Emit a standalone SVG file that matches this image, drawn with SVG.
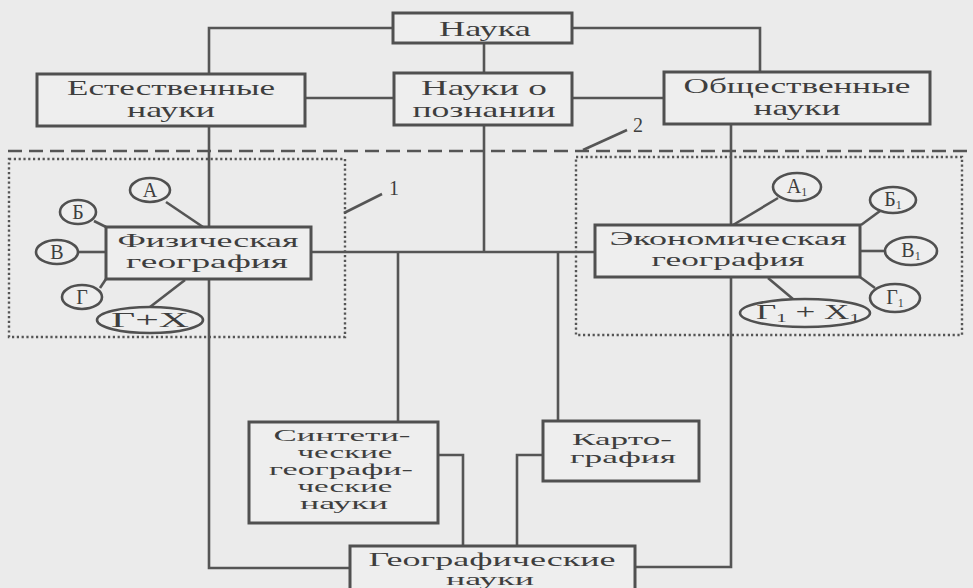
<svg xmlns="http://www.w3.org/2000/svg" width="973" height="588" viewBox="0 0 973 588">
<style>
.bg{fill:#ebebeb}
.box{fill:#eeeeee;stroke:#505050;stroke-width:3}
.ln{fill:none;stroke:#555;stroke-width:2.6}
.el{fill:#eeeeee;stroke:#505050;stroke-width:2.6}
.dash{fill:none;stroke:#555;stroke-width:2.6;stroke-dasharray:14 7}
.dot{fill:none;stroke:#555;stroke-width:2.4;stroke-dasharray:2.2 2.6}
text{font-family:"Liberation Serif","DejaVu Serif",serif;fill:#3e3e3e;text-anchor:middle}
.t{font-size:21px}
.m{font-size:19px}
.s{font-size:17px}
.g{font-size:17px}
.n{font-size:20px}
.e{font-size:20px}
.sub{font-size:12px}
</style>
<rect class="bg" x="0" y="0" width="973" height="588"/>
<g id="regions">
<path class="dash" d="M8,151 H973"/>
<rect class="dot" x="9" y="159" width="336" height="178"/>
<rect class="dot" x="576" y="157" width="386" height="178"/>
</g>
<g id="connectors">
<path class="ln" d="M393,28 H209 V568 H350"/>
<path class="ln" d="M572,28 H760 V72"/>
<path class="ln" d="M305,98 H394"/>
<path class="ln" d="M572,98 H664"/>
<path class="ln" d="M484,43 V252"/>
<path class="ln" d="M731,124 V567 H635"/>
<path class="ln" d="M311,252 H595"/>
<path class="ln" d="M398,252 V422"/>
<path class="ln" d="M558,252 V421"/>
<path class="ln" d="M438,455 H463 V546"/>
<path class="ln" d="M543,455 H517 V546"/>
<path class="ln" d="M166,202 L203,227"/>
<path class="ln" d="M94,221 L106,227"/>
<path class="ln" d="M78,252 H106"/>
<path class="ln" d="M100,288 L106,279"/>
<path class="ln" d="M150,307 L185,280"/>
<path class="ln" d="M778,198 L733,225"/>
<path class="ln" d="M880,211 L861,225"/>
<path class="ln" d="M860,251 H885"/>
<path class="ln" d="M860,277 L875,288"/>
<path class="ln" d="M768,278 L793,299"/>
<path class="ln" d="M344,213 L382,194"/>
<path class="ln" d="M583,150 L627,130"/>
</g>
<g id="labels">
<text class="n" x="394" y="195">1</text>
<text class="n" x="638" y="132">2</text>
</g>
<g id="nauka">
<rect class="box" x="393" y="13" width="179" height="30"/>
<text class="t" x="485" y="36" textLength="92" lengthAdjust="spacingAndGlyphs">Наука</text>
</g>
<g id="estestvennye">
<rect class="box" x="37" y="74" width="268" height="52"/>
<text class="t" x="171" y="95" textLength="208" lengthAdjust="spacingAndGlyphs">Естественные</text>
<text class="t" x="171" y="117" textLength="88" lengthAdjust="spacingAndGlyphs">науки</text>
</g>
<g id="poznanie">
<rect class="box" x="394" y="73" width="178" height="52"/>
<text class="t" x="484" y="95" textLength="126" lengthAdjust="spacingAndGlyphs">Науки о</text>
<text class="t" x="484" y="117" textLength="143" lengthAdjust="spacingAndGlyphs">познании</text>
</g>
<g id="obshchestvennye">
<rect class="box" x="664" y="72" width="266" height="52"/>
<text class="t" x="797" y="93" textLength="227" lengthAdjust="spacingAndGlyphs">Общественные</text>
<text class="t" x="797" y="115" textLength="87" lengthAdjust="spacingAndGlyphs">науки</text>
</g>
<g id="fizicheskaya">
<rect class="box" x="106" y="227" width="205" height="52"/>
<text class="m" x="208" y="247" textLength="181" lengthAdjust="spacingAndGlyphs">Физическая</text>
<text class="m" x="207" y="268" textLength="162" lengthAdjust="spacingAndGlyphs">география</text>
</g>
<g id="ekonomicheskaya">
<rect class="box" x="595" y="225" width="265" height="52"/>
<text class="m" x="728" y="245" textLength="237" lengthAdjust="spacingAndGlyphs">Экономическая</text>
<text class="m" x="728" y="266" textLength="153" lengthAdjust="spacingAndGlyphs">география</text>
</g>
<g id="factors-left">
<ellipse class="el" cx="150" cy="190" rx="20" ry="12"/>
<text class="e" x="150" y="197">А</text>
<ellipse class="el" cx="78" cy="212" rx="18" ry="12"/>
<text class="e" x="78" y="219">Б</text>
<ellipse class="el" cx="57" cy="252" rx="21" ry="12"/>
<text class="e" x="57" y="259">В</text>
<ellipse class="el" cx="82" cy="297" rx="20" ry="12"/>
<text class="e" x="82" y="304">Г</text>
<ellipse class="el" cx="150" cy="320" rx="53" ry="13"/>
<text class="e" x="150" y="327" textLength="78" lengthAdjust="spacingAndGlyphs">Г+Х</text>
</g>
<g id="factors-right">
<ellipse class="el" cx="797" cy="187" rx="24" ry="14"/>
<text class="e" x="797" y="193">А<tspan class="sub" dy="3">1</tspan></text>
<ellipse class="el" cx="893" cy="200" rx="23" ry="13"/>
<text class="e" x="893" y="206">Б<tspan class="sub" dy="3">1</tspan></text>
<ellipse class="el" cx="911" cy="251" rx="26" ry="14"/>
<text class="e" x="911" y="257">В<tspan class="sub" dy="3">1</tspan></text>
<ellipse class="el" cx="895" cy="298" rx="25" ry="14"/>
<text class="e" x="895" y="304">Г<tspan class="sub" dy="3">1</tspan></text>
<ellipse class="el" cx="805" cy="313" rx="65" ry="14"/>
<text class="e" x="808" y="319" textLength="104" lengthAdjust="spacingAndGlyphs">Г<tspan class="sub" dy="3">1</tspan><tspan dy="-3"> + Х</tspan><tspan class="sub" dy="3">1</tspan></text>
</g>
<g id="sinteticheskie">
<rect class="box" x="249" y="422" width="189" height="101"/>
<text class="s" x="342" y="441" textLength="137" lengthAdjust="spacingAndGlyphs">Синтети-</text>
<text class="s" x="345" y="458" textLength="95" lengthAdjust="spacingAndGlyphs">ческие</text>
<text class="s" x="341" y="475" textLength="144" lengthAdjust="spacingAndGlyphs">географи-</text>
<text class="s" x="345" y="492" textLength="95" lengthAdjust="spacingAndGlyphs">ческие</text>
<text class="s" x="344" y="509" textLength="88" lengthAdjust="spacingAndGlyphs">науки</text>
</g>
<g id="kartografiya">
<rect class="box" x="543" y="421" width="156" height="60"/>
<text class="s" x="622" y="445" textLength="100" lengthAdjust="spacingAndGlyphs">Карто-</text>
<text class="s" x="623" y="463" textLength="106" lengthAdjust="spacingAndGlyphs">графия</text>
</g>
<g id="geograficheskie">
<rect class="box" x="350" y="546" width="285" height="50"/>
<text class="m" x="492" y="566" textLength="247" lengthAdjust="spacingAndGlyphs">Географические</text>
<text class="g" x="490" y="585" textLength="88" lengthAdjust="spacingAndGlyphs">науки</text>
</g>
</svg>
